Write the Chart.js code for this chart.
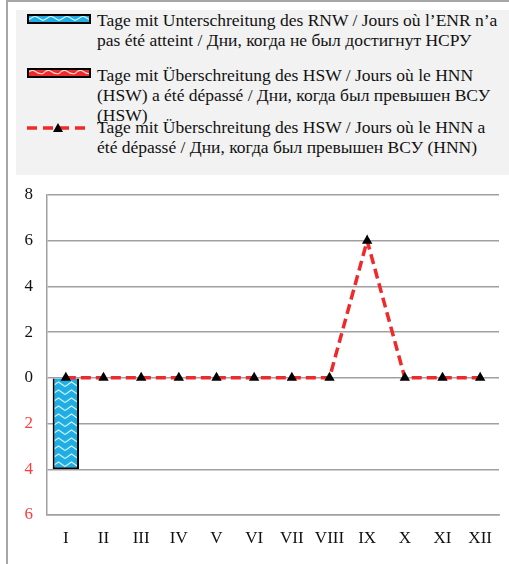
<!DOCTYPE html>
<html>
<head>
<meta charset="utf-8">
<script src="https://cdn.jsdelivr.net/npm/chart.js@4.4.1/dist/chart.umd.min.js"></script>
<style>
  html, body { margin: 0; padding: 0; background: #fff; }
  #wrap {
    position: relative; width: 509px; height: 564px; overflow: hidden;
    font-family: "Liberation Serif", "Times New Roman", serif; color: #111;
  }
  #frame {
    position: absolute; left: 6px; top: 0; width: 520px; height: 600px;
    border-left: 2px solid #a6a6a6; border-top: 2px solid #a6a6a6;
  }
  #legend {
    position: absolute; left: 16px; top: 10px; width: 493px; height: 165px;
    background: #f2f2f2;
  }
  .item { position: absolute; left: 81px; font-size: 17.5px; line-height: 20px; white-space: nowrap; }
  .sw { position: absolute; left: 11px; }
  #chartBox { position: absolute; left: 0; top: 180px; width: 509px; height: 384px; }
</style>
</head>
<body>
<div id="wrap">
  <div id="frame"></div>
  <div id="legend">
    <canvas class="sw" id="sw1" width="64" height="10" style="top:4px"></canvas>
    <div class="item" style="top:0px">Tage mit Unterschreitung des RNW / Jours où l’ENR n’a<br>pas été atteint / Дни, когда не был достигнут НСРУ</div>
    <canvas class="sw" id="sw2" width="64" height="10" style="top:58px"></canvas>
    <div class="item" style="top:55px">Tage mit Überschreitung des HSW / Jours où le HNN<br>(HSW) a été dépassé / Дни, когда был превышен ВСУ<br>(HSW)</div>
    <canvas class="sw" id="sw3" width="64" height="12" style="top:112px"></canvas>
    <div class="item" style="top:107px">Tage mit Überschreitung des HSW / Jours où le HNN a<br>été dépassé / Дни, когда был превышен ВСУ (HNN)</div>
  </div>
  <div id="chartBox"><canvas id="chart"></canvas></div>
</div>
<script>
const months = ['I', 'II', 'III', 'IV', 'V', 'VI', 'VII', 'VIII', 'IX', 'X', 'XI', 'XII'];
// days below the RNW (drawn downwards)
const daysBelowRNW = [4, 0, 0, 0, 0, 0, 0, 0, 0, 0, 0, 0];
const daysAboveHSW = [0, 0, 0, 0, 0, 0, 0, 0, 0, 0, 0, 0];
const daysAboveHNN = [0, 0, 0, 0, 0, 0, 0, 0, 6, 0, 0, 0];
const yMin = -6, yMax = 8, yStep = 2;

const blue = '#1eaee3';
const red = '#ee2a2a';
const gridColor = '#a0a0a0';

// zigzag pattern for the bars
function makePattern(bg, w, h, wave) {
    const c = document.createElement('canvas');
    c.width = w; c.height = h;
    const g = c.getContext('2d');
    g.fillStyle = bg;
    g.fillRect(0, 0, w, h);
    g.strokeStyle = 'rgba(255,255,255,0.8)';
    g.lineWidth = 1.2;
    g.beginPath();
    if (wave) {
        g.moveTo(0, h * 0.7);
        g.quadraticCurveTo(w / 4, h * 0.1, w / 2, h * 0.4);
        g.quadraticCurveTo(w * 3 / 4, h * 0.8, w, h * 0.7);
    } else {
        g.moveTo(0, h * 0.8);
        g.lineTo(w / 2, h * 0.25);
        g.lineTo(w, h * 0.8);
    }
    g.stroke();
    return g.createPattern(c, 'repeat');
}

const ctx = document.getElementById('chart').getContext('2d');
const bluePattern = makePattern(blue, 13, 8, false);
const redPattern = makePattern(red, 16, 8, true);

// legend swatches
(function () {
    let g = document.getElementById('sw1').getContext('2d');
    g.fillStyle = makePattern(blue, 16, 8, false);
    g.fillRect(0, 0, 64, 10);
    g.strokeStyle = '#000'; g.lineWidth = 2; g.strokeRect(1, 1, 62, 8);

    g = document.getElementById('sw2').getContext('2d');
    g.fillStyle = redPattern;
    g.fillRect(0, 0, 64, 10);
    g.strokeStyle = '#000'; g.lineWidth = 2; g.strokeRect(1, 1, 62, 8);

    g = document.getElementById('sw3').getContext('2d');
    g.strokeStyle = red; g.lineWidth = 3.5; g.setLineDash([10, 6]);
    g.beginPath(); g.moveTo(0, 6); g.lineTo(62, 6); g.stroke();
    g.fillStyle = '#000';
    g.beginPath(); g.moveTo(31, 1); g.lineTo(36, 10); g.lineTo(26, 10); g.closePath(); g.fill();
})();

const chart = new Chart(ctx, {
    type: 'bar',
    data: {
        labels: months,
        datasets: [{
            label: 'RNW',
            data: daysBelowRNW.map(v => -v),
            backgroundColor: bluePattern,
            borderColor: '#000',
            borderWidth: 2,
            grouped: false,
            order: 2
        }, {
            label: 'HSW',
            data: daysAboveHSW,
            backgroundColor: redPattern,
            borderColor: '#000',
            borderWidth: 0,
            grouped: false,
            order: 3
        }, {
            type: 'line',
            label: 'HNN',
            data: daysAboveHNN,
            borderColor: red,
            borderWidth: 3.5,
            borderDash: [10, 5],
            tension: 0,
            pointStyle: 'triangle',
            pointRadius: 6,
            pointBackgroundColor: '#000',
            pointBorderColor: '#000',
            pointBorderWidth: 0,
            order: 0
        }]
    },
    options: {
        responsive: true,
        maintainAspectRatio: false,
        animation: false,
        barPercentage: 0.7,
        categoryPercentage: 1,
        layout: { padding: { top: 15, right: 10, left: 0, bottom: 0 } },
        plugins: {
            legend: { display: false },
            tooltip: { enabled: false }
        },
        scales: {
            x: {
                grid: { display: false },
                border: { display: true, color: gridColor, width: 1.5 },
                ticks: {
                    color: '#111',
                    padding: 5,
                    font: { family: 'Liberation Serif', size: 17 }
                },
                afterFit: s => { s.height = 49; }
            },
            y: {
                min: yMin,
                max: yMax,
                // invisible tick marks give the gap between labels and axis
                grid: { color: gridColor, lineWidth: 1.5, drawTicks: true, tickLength: 14, tickColor: 'rgba(0,0,0,0)' },
                border: { display: true, color: gridColor, width: 1.5 },
                ticks: {
                    stepSize: yStep,
                    padding: 0,
                    callback: v => Math.abs(v),
                    color: c => c.tick && c.tick.value < 0 ? '#ff3b3b' : '#111',
                    font: { family: 'Liberation Serif', size: 17 }
                },
                afterFit: s => { s.width = 47; }
            }
        }
    }
});
</script>
</body>
</html>
